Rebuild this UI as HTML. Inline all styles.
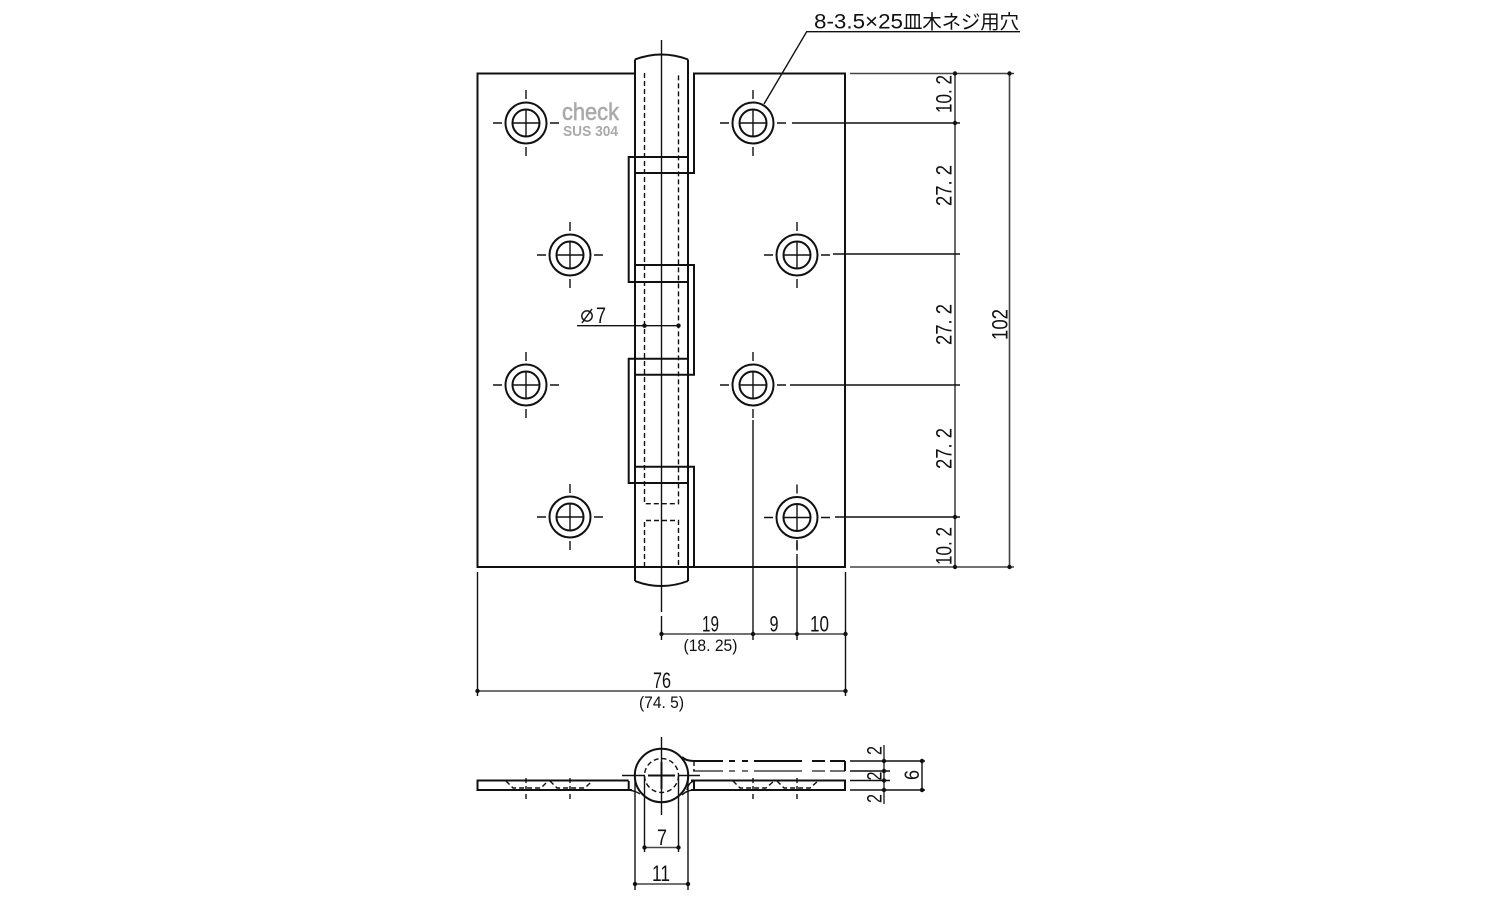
<!DOCTYPE html>
<html><head><meta charset="utf-8"><title>Hinge</title>
<style>html,body{margin:0;padding:0;background:#fff}svg{display:block}
text{font-family:"Liberation Sans","Noto Sans CJK JP",sans-serif;fill:#111}
.m{stroke:#111;stroke-width:2;fill:none}
.t{stroke:#111;stroke-width:1.4;fill:none}
.g{stroke:#444;stroke-width:1.6;fill:none}
.d{stroke:#111;stroke-width:1.4;fill:none;stroke-dasharray:5 3}
</style></head><body>
<svg width="1500" height="900" viewBox="0 0 1500 900" xmlns="http://www.w3.org/2000/svg">
<defs>
<g id="h">
<circle r="20.5" class="m"/><circle r="13.5" class="m"/>
<path class="t" d="M-13.5 0H13.5M0-13.5V13.5"/>
<path class="t" d="M-33 0H-24M24 0H33M0-33V-24M0 24V33"/>
</g>
<circle id="o" r="2.2" fill="#111"/>
</defs>

<!-- plate -->
<path class="m" d="M635 73.5H477.5V567H845V73.5H694V173H635"/>
<!-- pin -->
<path class="m" d="M635 59.5V581M688 59.5V581"/>
<path class="m" d="M635 59.5Q661.5 49.5 688 59.5M635 581Q661.5 591 688 581"/>
<!-- knuckles -->
<path class="m" d="M635 157H628.7V282H688M635 157H688"/>
<path class="m" d="M635 265H694V374.7H635"/>
<path class="m" d="M688 358.7H628.7V483H688"/>
<path class="m" d="M635 466.7H694V567"/>
<!-- hidden bore -->
<path class="d" d="M644.5 73V503.7H678.5V73"/>
<path class="d" d="M644.5 567V520.5H678.5V567"/>
<!-- centre line -->
<path class="t" d="M661.5 40V612"/>
<path class="t" d="M661.5 616V640"/>
<!-- holes -->
<use href="#h" x="526" y="123"/><use href="#h" x="570" y="255"/>
<use href="#h" x="526" y="385"/><use href="#h" x="570" y="517"/>
<use href="#h" x="753" y="123"/><use href="#h" x="797" y="255"/>
<use href="#h" x="753" y="385"/><use href="#h" x="797" y="517.5"/>
<!-- stamp -->
<text x="562" y="120" font-size="24" textLength="57" lengthAdjust="spacingAndGlyphs" style="fill:#aaa;stroke:#aaa;stroke-width:.6">check</text>
<text x="563" y="136" font-size="15" font-weight="bold" textLength="55" lengthAdjust="spacingAndGlyphs" style="fill:#aaa">SUS 304</text>

<!-- leader -->
<path class="t" d="M1020 31.7H806.7L764 104"/>
<text x="814" y="28.5" font-size="21" textLength="89" lengthAdjust="spacingAndGlyphs">8-3.5×25</text>
<text x="903" y="28.5" font-size="19.5" textLength="116" lengthAdjust="spacing">皿木ネジ用穴</text>

<!-- right dims -->
<path class="g" d="M850 73.5H1014M850 567H1014M955 73.5V567M1009.5 73.5V567"/>
<path class="t" d="M792 123H960M833 254H960M790 385H960M835 517H960"/>
<use href="#o" x="955" y="73.5"/><use href="#o" x="955" y="123"/><use href="#o" x="955" y="517"/><use href="#o" x="955" y="567"/>
<use href="#o" x="1009.5" y="73.5"/><use href="#o" x="1009.5" y="567"/>
<text transform="translate(951.5,113) rotate(-90)" font-size="22" textLength="38" lengthAdjust="spacingAndGlyphs">10. 2</text>
<text transform="translate(951.5,206) rotate(-90)" font-size="22" textLength="41" lengthAdjust="spacingAndGlyphs">27. 2</text>
<text transform="translate(951.5,345) rotate(-90)" font-size="22" textLength="41" lengthAdjust="spacingAndGlyphs">27. 2</text>
<text transform="translate(951.5,469) rotate(-90)" font-size="22" textLength="41" lengthAdjust="spacingAndGlyphs">27. 2</text>
<text transform="translate(951.5,565) rotate(-90)" font-size="22" textLength="38" lengthAdjust="spacingAndGlyphs">10. 2</text>
<text transform="translate(1007.5,340) rotate(-90)" font-size="22" textLength="31" lengthAdjust="spacingAndGlyphs">102</text>

<!-- phi7 -->
<path class="t" d="M577 325.7H678.5"/>
<use href="#o" x="644.5" y="325.7"/><use href="#o" x="678.5" y="325.7"/>
<circle cx="587" cy="316" r="5.2" class="t"/><path class="t" d="M582 323L592 309"/>
<text x="596" y="323" font-size="22" textLength="10" lengthAdjust="spacingAndGlyphs">7</text>

<!-- bottom dims -->
<path class="t" d="M753 420V640M797 540V549M797 554V640M845.5 572V696M477.5 572V696"/>
<path class="g" d="M661.5 634H845.5M477.5 691H845.5"/>
<use href="#o" x="661.5" y="634"/><use href="#o" x="753" y="634"/><use href="#o" x="797" y="634"/><use href="#o" x="845.5" y="634"/>
<use href="#o" x="477.5" y="691"/><use href="#o" x="845.5" y="691"/>
<text x="702" y="631.5" font-size="22" textLength="17" lengthAdjust="spacingAndGlyphs">19</text>
<text x="769.5" y="631.5" font-size="22" textLength="9" lengthAdjust="spacingAndGlyphs">9</text>
<text x="810" y="631.5" font-size="22" textLength="19" lengthAdjust="spacingAndGlyphs">10</text>
<text x="683.5" y="651" font-size="16.5" textLength="54" lengthAdjust="spacingAndGlyphs">(18. 25)</text>
<text x="653" y="688" font-size="22" textLength="18" lengthAdjust="spacingAndGlyphs">76</text>
<text x="639" y="708" font-size="16.5" textLength="45" lengthAdjust="spacingAndGlyphs">(74. 5)</text>

<!-- side view -->
<path class="m" d="M628.7 780.5H477.5V790H632"/>
<path class="m" d="M691 780.5H845V790H691"/>
<path class="m" d="M693 761H723M729 761H735M742 761H748M754 761H802M812 761H825M830 761H845"/>
<path class="g" d="M693 771H723M729 771H735M742 771H748M754 771H802M812 771H825M830 771H845"/>
<path class="m" d="M845 761V771"/>
<circle cx="661.5" cy="775.5" r="26.7" class="m"/>
<circle cx="661.5" cy="775.5" r="17" class="d"/>
<path class="m" d="M648 775.5H675M661.5 762V789"/>
<path class="t" d="M661.5 737V815M622 775.5H645M678 775.5H700"/>
<path class="m" d="M682 757Q686 761 694 761M628.7 781V790M694 781V790"/>
<path class="t" d="M628.7 790Q636 791 640 794M694 790Q687 790 682 795M694 781Q688 783 687 790"/>
<path class="d" d="M694 761V771M506 781L513 788H541L548 781M550 781L557 788H585L592 781"/>
<path class="d" d="M733 781L740 788H766L774 781M777 781L784 788H810L818 781"/>
<path class="d" d="M526 778V802M570 778V802M753 778V802M797 778V802"/>
<!-- side dims -->
<path class="t" d="M635 776V890M688 776V890M644.5 776V852M678.5 776V852"/>
<path class="g" d="M644.5 847.5H678.5M635 884H688"/>
<use href="#o" x="644.5" y="847.5"/><use href="#o" x="678.5" y="847.5"/><use href="#o" x="635" y="884"/><use href="#o" x="688" y="884"/>
<text x="657" y="845" font-size="22" textLength="10" lengthAdjust="spacingAndGlyphs">7</text>
<text x="652" y="881" font-size="22" textLength="18" lengthAdjust="spacingAndGlyphs">11</text>
<path class="t" d="M850 761H925M850 771H890M850 780.5H890M850 790H925"/>
<path class="g" d="M884 745V804"/><path class="t" d="M922 761V790"/>
<use href="#o" x="884" y="761"/><use href="#o" x="884" y="771"/><use href="#o" x="884" y="780.5"/><use href="#o" x="884" y="790"/>
<use href="#o" x="922" y="761"/><use href="#o" x="922" y="790"/>
<text transform="translate(881.5,755) rotate(-90)" font-size="21" textLength="9" lengthAdjust="spacingAndGlyphs">2</text>
<text transform="translate(881.5,780.5) rotate(-90)" font-size="21" textLength="9" lengthAdjust="spacingAndGlyphs">2</text>
<text transform="translate(881.5,803) rotate(-90)" font-size="21" textLength="9" lengthAdjust="spacingAndGlyphs">2</text>
<text transform="translate(919,780) rotate(-90)" font-size="21" textLength="10" lengthAdjust="spacingAndGlyphs">6</text>
</svg>
</body></html>
